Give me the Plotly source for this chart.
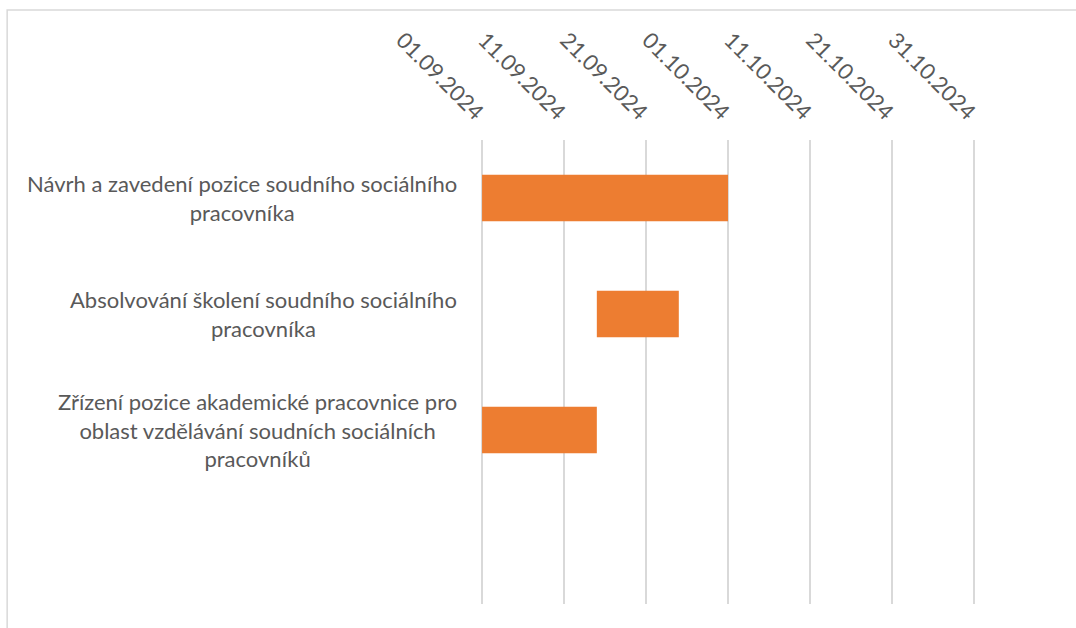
import plotly.graph_objects as go
from datetime import datetime, timedelta

tasks = [
    "Návrh a zavedení pozice soudního sociálního<br>pracovníka",
    "Absolvování školení soudního sociálního<br>pracovníka",
    "Zřízení pozice akademické pracovnice pro<br>oblast vzdělávání soudních sociálních<br>pracovníků",
]
starts = ["2024-09-01", "2024-09-15", "2024-09-01"]
ends = ["2024-10-01", "2024-09-25", "2024-09-15"]
tick_dates = ["2024-09-01", "2024-09-11", "2024-09-21", "2024-10-01",
              "2024-10-11", "2024-10-21", "2024-10-31"]
tick_labels = ["01.09.2024", "11.09.2024", "21.09.2024", "01.10.2024",
               "11.10.2024", "21.10.2024", "31.10.2024"]
n_slots = 4

def d(s):
    return datetime.strptime(s, "%Y-%m-%d")

durations = [(d(e) - d(s)).total_seconds() * 1000 for s, e in zip(starts, ends)]
ypos = list(range(len(tasks)))

W, H = 1076, 628
# target pixel extent of the date axis (first to last tick)
ax0, ax1 = 482, 974
T, B = 140, 24
span_days = (d(tick_dates[-1]) - d(tick_dates[0])).days
ppd = (ax1 - ax0) / span_days
pad_h = 6  # small padding so edge gridlines get drawn
pad_px = ppd * pad_h / 24
L = ax0 - pad_px
R = W - (ax1 + pad_px)
pw, ph = W - L - R, H - T - B
r0 = (d(tick_dates[0]) - timedelta(hours=pad_h)).strftime("%Y-%m-%d %H:%M")
r1 = (d(tick_dates[-1]) + timedelta(hours=pad_h)).strftime("%Y-%m-%d %H:%M")

FONT = "Lato"
TXT = "#595959"

fig = go.Figure()
fig.add_trace(go.Bar(
    y=ypos, x=durations, base=starts, orientation="h",
    marker=dict(color="#ED7D31", line=dict(width=0)),
    width=0.4, hoverinfo="skip",
))

for yi, t in zip(ypos, tasks):
    fig.add_annotation(
        x=0, xref="paper", y=yi, yref="y", text=t, showarrow=False,
        xanchor="right", yanchor="middle", align="center",
        xshift=-(23 - pad_px),
        font=dict(family=FONT, size=22, color=TXT),
    )

fig.update_layout(
    width=W, height=H,
    margin=dict(l=L, r=R, t=T, b=B, pad=0),
    paper_bgcolor="white", plot_bgcolor="white",
    showlegend=False,
    xaxis=dict(
        type="date", side="top",
        range=[r0, r1],
        tickvals=tick_dates, ticktext=tick_labels,
        tickangle=45, showgrid=True, gridcolor="#d9d9d9", gridwidth=1.5,
        zeroline=False, showline=False, ticks="", ticklen=0,
        ticklabelstandoff=10,
        tickfont=dict(family=FONT, size=22, color=TXT),
    ),
    yaxis=dict(
        range=[n_slots - 0.5, -0.5], showticklabels=False,
        showgrid=False, zeroline=False, showline=False, ticks="",
    ),
    shapes=[dict(
        type="rect", xref="paper", yref="paper",
        x0=(7 - L) / pw, x1=(W + 20 - L) / pw,
        y0=-(B + 20) / ph, y1=(H - B - 10) / ph,
        line=dict(color="#d9d9d9", width=1.5), fillcolor="rgba(0,0,0,0)",
        layer="below",
    )],
)

fig.write_html("out.html", config={"displayModeBar": False},
               post_script="document.body.style.margin='0';")
